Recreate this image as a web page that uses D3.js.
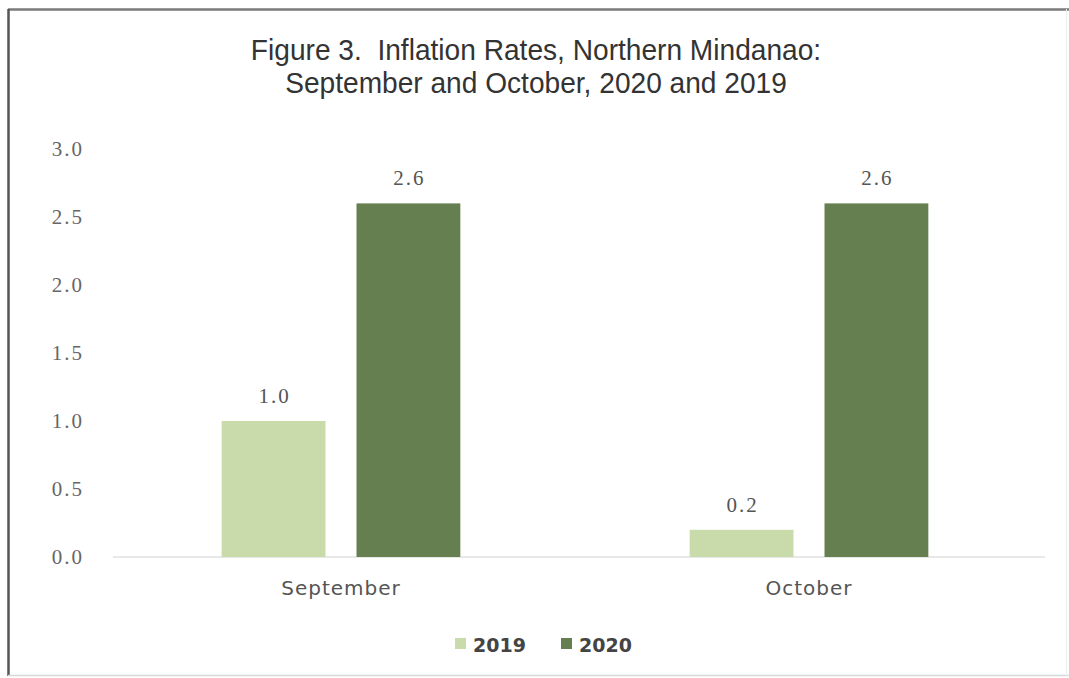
<!DOCTYPE html>
<html>
<head>
<meta charset="utf-8">
<script src="https://cdn.jsdelivr.net/npm/d3@7"></script>
<style>
  html, body { margin: 0; padding: 0; background: #fff; }
  svg { display: block; }
</style>
</head>
<body>
<svg id="chart" width="1069" height="678"></svg>
<script>
// Inflation rates, Northern Mindanao (percent)
const months = ["September", "October"];
const years = ["2019", "2020"];
const rates2019 = [1.0, 0.2];
const rates2020 = [2.6, 2.6];
const yTicks = [0, 0.5, 1.0, 1.5, 2.0, 2.5, 3.0];
const titleLines = ["Figure 3.  Inflation Rates, Northern Mindanao:", "September and October, 2020 and 2019"];
const colors = { "2019": "#c9dbab", "2020": "#667f50" };

const rows = months.map((m, i) => ({ month: m, values: { "2019": rates2019[i], "2020": rates2020[i] } }));

const svg = d3.select("#chart");
const W = 1069, H = 678;

// outer frame
svg.append("rect").attr("x", 0).attr("y", 0).attr("width", W).attr("height", H).attr("fill", "#fff");
svg.append("line").attr("x1", 8).attr("x2", W).attr("y1", 9.5).attr("y2", 9.5)
  .attr("stroke", "#7a7a7a").attr("stroke-width", 2.5);
svg.append("line").attr("x1", 8.5).attr("x2", 8.5).attr("y1", 9).attr("y2", 676)
  .attr("stroke", "#555").attr("stroke-width", 2.5);
svg.append("line").attr("x1", 8).attr("x2", W).attr("y1", 675.5).attr("y2", 675.5)
  .attr("stroke", "#d8d8d8").attr("stroke-width", 1.5);
svg.append("line").attr("x1", 1066.5).attr("x2", 1066.5).attr("y1", 9).attr("y2", 676)
  .attr("stroke", "#eeeeee").attr("stroke-width", 1);

// scales
const x0 = d3.scaleBand().domain(months).range([107, 1043]).paddingInner(0.49).paddingOuter(0.245);
const x1 = d3.scaleBand().domain(years).range([0, x0.bandwidth()]).paddingInner(0.23);
const y = d3.scaleLinear().domain([0, 3]).range([557, 149]);

// title, slightly condensed
const title = svg.append("text").attr("text-anchor", "middle")
  .attr("font-family", "Liberation Sans, Arial, sans-serif").attr("font-size", 29).attr("fill", "#333")
  .attr("transform", "translate(536,0) scale(0.97,1)")
  .style("white-space", "pre");
titleLines.forEach((t, i) => {
  title.append("tspan").attr("x", 0).attr("y", 60 + i * 33).text(t);
});

// y axis (labels only)
const yAxis = d3.axisLeft(y).tickValues(yTicks).tickFormat(d3.format(".1f")).tickSize(0).tickPadding(0);
const yG = svg.append("g").attr("transform", "translate(84,0)").call(yAxis);
yG.select(".domain").remove();
yG.selectAll("text")
  .attr("font-family", "Liberation Serif, Times New Roman, serif")
  .attr("font-size", 21).attr("letter-spacing", 2).attr("fill", "#666");

// baseline
svg.append("line").attr("x1", 113).attr("x2", 1045).attr("y1", y(0)).attr("y2", y(0))
  .attr("stroke", "#e0e0e0").attr("stroke-width", 1.5);

// bars
const groups = svg.selectAll("g.month").data(rows).join("g")
  .attr("class", "month")
  .attr("transform", d => `translate(${x0(d.month)},0)`);

groups.selectAll("rect").data(d => years.map(k => ({ key: k, value: d.values[k] }))).join("rect")
  .attr("x", d => x1(d.key))
  .attr("y", d => y(d.value))
  .attr("width", x1.bandwidth())
  .attr("height", d => y(0) - y(d.value))
  .attr("fill", d => colors[d.key]);

// value labels
groups.selectAll("text.val").data(d => years.map(k => ({ key: k, value: d.values[k] }))).join("text")
  .attr("class", "val")
  .attr("x", d => x1(d.key) + x1.bandwidth() / 2 + 1)
  .attr("y", d => y(d.value) - 18)
  .attr("text-anchor", "middle")
  .attr("font-family", "Liberation Serif, Times New Roman, serif")
  .attr("font-size", 21).attr("letter-spacing", 2).attr("fill", "#555")
  .text(d => d3.format(".1f")(d.value));

// x axis (category labels)
const xAxis = d3.axisBottom(x0).tickSize(0).tickPadding(0);
const xG = svg.append("g").attr("transform", "translate(0,581)").call(xAxis);
xG.select(".domain").remove();
xG.selectAll("text")
  .attr("font-family", "DejaVu Sans, sans-serif")
  .attr("font-size", 20).attr("letter-spacing", 1).attr("fill", "#555");

// legend
const legendItems = [
  { key: "2019", sx: 455, tx: 473 },
  { key: "2020", sx: 561, tx: 579 }
];
const lg = svg.append("g");
legendItems.forEach(it => {
  lg.append("rect").attr("x", it.sx).attr("y", 638).attr("width", 11).attr("height", 11)
    .attr("fill", colors[it.key]);
  lg.append("text").attr("x", it.tx).attr("y", 652)
    .attr("font-family", "DejaVu Sans, sans-serif")
    .attr("font-size", 19).attr("font-weight", "bold").attr("fill", "#444")
    .text(it.key);
});
</script>
</body>
</html>
